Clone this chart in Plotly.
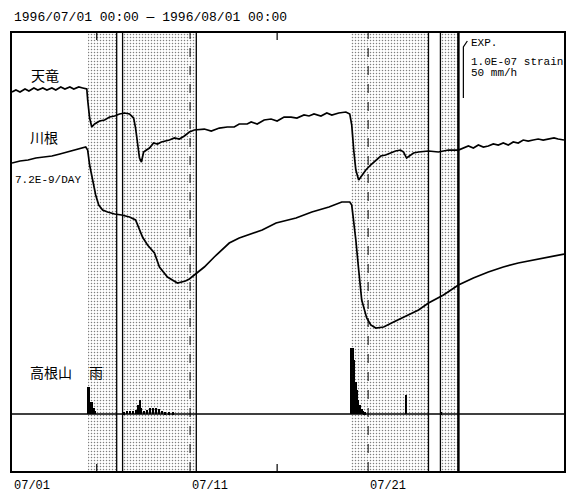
import pandas as pd
import plotly.graph_objects as go

START = pd.Timestamp("1996-07-01")
DAY_MS = 86400000

# ---- data (x in days from 1996/07/01 00:00, strain in 1e-9, rain in mm/h) ----
tenryu_day = [0.00, 0.22, 0.45, 0.73, 0.95, 1.23, 1.45, 1.73, 1.96, 2.24, 2.46, 2.74, 2.97, 3.25,
              3.47, 3.75, 3.97, 4.20, 4.25, 4.36, 4.48, 4.64, 4.92, 5.20, 5.48, 5.76, 6.04, 6.32,
              6.60, 6.83, 6.94, 7.05, 7.16, 7.27, 7.39, 7.55, 7.72, 7.95, 8.17, 8.39, 8.62, 8.84,
              9.12, 9.40, 9.68, 9.96, 10.24, 10.80, 11.19, 11.64, 12.09, 12.48, 12.76, 13.21,
              13.43, 13.77, 14.16, 14.55, 14.89, 15.28, 15.67, 16.00, 16.40, 16.68, 16.96, 17.35,
              17.68, 17.96, 18.35, 18.75, 18.97, 19.08, 19.19, 19.31, 19.47, 19.64, 19.87, 20.15,
              20.43, 20.71, 20.98, 21.26, 21.54, 21.82, 21.99, 22.16, 22.33, 22.55, 22.83, 23.39,
              23.95, 24.51, 25.07, 25.35, 25.63, 25.91, 26.19, 26.47, 26.75, 27.03, 27.31, 27.59,
              27.87, 28.15, 28.43, 28.71, 28.99, 29.27, 29.55, 29.83, 30.11, 30.44, 30.67, 31.00]
tenryu_val = [0, 3.6, 0, 5.5, 1.8, 7.3, 3.6, 7.3, 3.6, 7.3, 3.6, 9.1, 5.5, 9.1,
              5.5, 9.1, 7.3, 5.5, -14.5, -47.3, -63.6, -58.2, -52.7, -50.9, -45.5, -43.6, -40.0, -38.2,
              -40.0, -47.3, -65.5, -96.4, -120.0, -127.3, -109.1, -105.5, -101.8, -92.7, -94.5, -90.9, -89.1, -87.3,
              -83.6, -85.5, -80.0, -72.7, -69.1, -67.3, -70.9, -65.5, -63.6, -63.6, -58.2, -58.2,
              -54.5, -58.2, -50.9, -49.1, -52.7, -45.5, -45.5, -47.3, -41.8, -43.6, -40.0, -43.6,
              -38.2, -41.8, -38.2, -36.4, -40.0, -60.0, -105.5, -141.8, -160.0, -152.7, -141.8, -132.7,
              -123.6, -116.4, -114.5, -110.9, -107.3, -105.5, -109.1, -120.0, -116.4, -110.9, -109.1, -107.3,
              -109.1, -105.5, -105.5, -101.8, -98.2, -101.8, -96.4, -100.0, -98.2, -94.5, -96.4, -92.7,
              -96.4, -90.9, -92.7, -87.3, -89.1, -87.3, -85.5, -87.3, -85.5, -83.6, -85.5, -87.3]

kawane_day = [0.00, 0.45, 0.90, 1.34, 1.79, 2.24, 2.69, 3.13, 3.58, 3.92, 4.14, 4.25, 4.36, 4.53,
              4.70, 4.87, 5.09, 5.37, 5.76, 6.16, 6.60, 6.94, 7.33, 7.61, 8.00, 8.28, 8.73, 9.29,
              9.74, 9.96, 10.35, 10.80, 11.36, 12.20, 12.76, 13.43, 14.05, 14.83, 15.95, 16.84,
              17.80, 18.52, 18.97, 19.08, 19.19, 19.31, 19.47, 19.64, 19.92, 20.15, 20.43, 20.87,
              21.43, 22.27, 22.83, 23.39, 24.23, 25.07, 25.91, 26.75, 27.59, 28.43, 29.27, 30.11, 31.00]
kawane_val = [0, 3.6, 5.5, 9.1, 10.9, 12.7, 16.4, 20.0, 23.6, 27.3, 29.1, 23.6, -3.6, -30.9,
              -58.2, -76.4, -85.5, -89.1, -92.7, -94.5, -98.2, -103.6, -134.5, -149.1, -163.6, -189.1, -207.3, -218.2,
              -214.5, -210.9, -200.0, -189.1, -170.9, -145.5, -136.4, -129.1, -121.8, -109.1, -100.0, -89.1,
              -80.0, -70.9, -70.9, -76.4, -103.6, -140.0, -194.5, -249.1, -281.8, -294.5, -300.0, -298.2,
              -289.1, -276.4, -267.3, -254.5, -240.0, -221.8, -209.1, -198.2, -189.1, -181.8, -176.4, -170.9, -165.5]

rain_day = [4.28, 4.36, 4.45, 4.53, 4.62, 4.70,
            6.32, 6.49, 6.66, 6.83, 6.99, 7.11, 7.19, 7.27, 7.44, 7.61, 7.78, 7.95, 8.11, 8.28,
            8.45, 8.62, 8.84, 9.07,
            19.05, 19.14, 19.22, 19.31, 19.39, 19.47, 19.56, 19.64, 19.73, 19.81, 22.16, 24.12]
rain_mmh = [24.5, 24.5, 10.9, 10.9, 5.5, 2.7,
            1.8, 2.7, 2.7, 2.7, 3.6, 8.2, 12.7, 5.5, 2.7, 3.6, 5.5, 5.5, 5.5, 4.5,
            2.7, 1.8, 1.8, 1.8,
            60.0, 60.0, 49.1, 29.1, 21.8, 12.7, 8.2, 4.5, 2.7, 1.8, 17.3, 1.8]

shade_start = [4.25, 6.21, 19.03, 24.06]
shade_end = [5.88, 10.35, 23.39, 25.07]
solid_line_days = [5.88, 6.21, 10.35, 23.39, 24.06]
thick_line_days = [25.07]
dashed_line_days = [10.0, 20.0]
event_days = [4.76, 14.89]

tick_days = [0, 10, 20]
tick_labels = ["07/01", "07/11", "07/21"]
title_text = "1996/07/01 00:00 \u2014 1996/08/01 00:00"

# ---- layout constants ----
Y_MAX = 796.4          # full axis height in 1e-9 strain units
TENRYU_OFFSET = 689.1
KAWANE_OFFSET = 560.0
RAIN_BASE = 103.6
RAIN_SCALE = 2.0       # 50 mm/h == 1e-7 strain == 100 units


def dt(days):
    return [START + pd.Timedelta(days=d) for d in days]


fig = go.Figure()

# shaded (stippled) periods
fig.add_trace(go.Bar(
    x=dt([(a + b) / 2 for a, b in zip(shade_start, shade_end)]),
    y=[Y_MAX] * len(shade_start),
    base=[0] * len(shade_start),
    width=[(b - a) * DAY_MS for a, b in zip(shade_start, shade_end)],
    marker=dict(color="white", line=dict(width=0),
                pattern=dict(shape=".", fgcolor="black", bgcolor="white", size=3, solidity=0.2)),
    hoverinfo="skip", showlegend=False))

# rain bars
fig.add_trace(go.Bar(
    x=dt(rain_day),
    y=[v * RAIN_SCALE for v in rain_mmh],
    base=[RAIN_BASE] * len(rain_day),
    width=[0.09 * DAY_MS] * len(rain_day),
    marker=dict(color="black", line=dict(width=0)),
    showlegend=False))

fig.add_trace(go.Scatter(
    x=dt(tenryu_day), y=[v + TENRYU_OFFSET for v in tenryu_val],
    mode="lines", line=dict(color="black", width=1.7), showlegend=False))
fig.add_trace(go.Scatter(
    x=dt(kawane_day), y=[v + KAWANE_OFFSET for v in kawane_val],
    mode="lines", line=dict(color="black", width=1.7), showlegend=False))

shapes = []
for d in solid_line_days:
    shapes.append(dict(type="line", xref="x", yref="paper", x0=dt([d])[0], x1=dt([d])[0],
                       y0=0, y1=1, line=dict(color="black", width=1.3)))
for d in thick_line_days:
    shapes.append(dict(type="line", xref="x", yref="paper", x0=dt([d])[0], x1=dt([d])[0],
                       y0=0, y1=1, line=dict(color="black", width=2.5)))
for d in dashed_line_days:
    shapes.append(dict(type="line", xref="x", yref="paper", x0=dt([d])[0], x1=dt([d])[0],
                       y0=0, y1=1, line=dict(color="black", width=1, dash="dash")))
for d in event_days:
    for y0, y1 in [(1, 0.984), (0, 0.016)]:
        shapes.append(dict(type="line", xref="x", yref="paper", x0=dt([d])[0], x1=dt([d])[0],
                           y0=y0, y1=y1, line=dict(color="black", width=1.2)))
# rain baseline
shapes.append(dict(type="line", xref="paper", yref="y", x0=0, x1=1, y0=RAIN_BASE, y1=RAIN_BASE,
                   line=dict(color="black", width=1.5)))
# scale bar (EXP.)
shapes.append(dict(type="path", xref="paper", yref="paper",
                   path="M 0.8177 0.8516 L 0.8177 0.968 L 0.8249 0.9817",
                   line=dict(color="black", width=1.2)))

MONO = "Liberation Mono"
CJK = "Noto Sans CJK JP"
ann = []
ann.append(dict(text=title_text, xref="paper", yref="paper", x=0, y=1.0365,
                xanchor="left", yanchor="middle", showarrow=False,
                font=dict(family=MONO, size=13, color="black")))
for d, lab in zip(tick_days, tick_labels):
    ann.append(dict(text=lab, xref="x", yref="paper", x=dt([d])[0], y=-0.034,
                    xanchor="left", yanchor="middle", showarrow=False,
                    font=dict(family=MONO, size=12, color="black")))
labels = [("天竜", 0.0596, 0.904, "center", CJK, 14),
          ("川根", 0.0578, 0.7626, "center", CJK, 14),
          ("7.2E-9/DAY", 0.001, 0.6644, "left", MONO, 11),
          ("高根山", 0.0704, 0.226, "center", CJK, 14),
          ("雨", 0.1516, 0.226, "center", CJK, 14),
          ("EXP.", 0.8285, 0.977, "left", MONO, 11),
          ("1.0E-07 strain", 0.8285, 0.9338, "left", MONO, 11),
          ("50 mm/h", 0.8285, 0.9087, "left", MONO, 11)]
for t, x, y, xa, fam, sz in labels:
    ann.append(dict(text=t, xref="paper", yref="paper", x=x, y=y, xanchor=xa, yanchor="middle",
                    showarrow=False, font=dict(family=fam, size=sz, color="black")))

fig.update_layout(
    width=568, height=494,
    margin=dict(l=12, r=2, t=33, b=23),
    paper_bgcolor="white", plot_bgcolor="white",
    barmode="overlay", bargap=0,
    shapes=shapes, annotations=ann, showlegend=False,
    xaxis=dict(type="date", range=[START, START + pd.Timedelta(days=31)],
               showticklabels=False, ticks="", showgrid=False, zeroline=False,
               showline=True, linecolor="black", linewidth=1.5, mirror=True),
    yaxis=dict(range=[0, Y_MAX], showticklabels=False, ticks="", showgrid=False, zeroline=False,
               showline=True, linecolor="black", linewidth=1.5, mirror=True),
)

# remove the default 8px page margin so the figure fills the 568x494 window exactly
fig.write_html("out.html", config={"displayModeBar": False},
               post_script="document.body.style.margin='0';")
